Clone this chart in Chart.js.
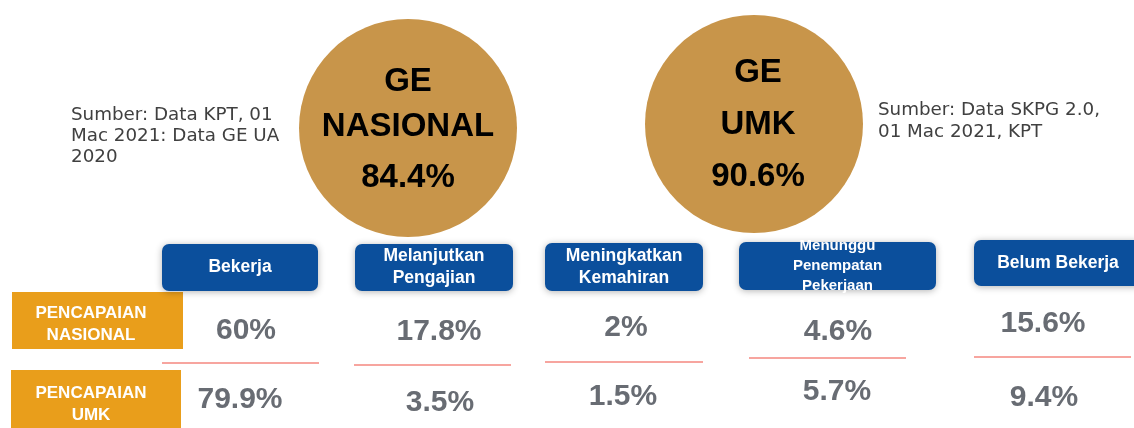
<!DOCTYPE html>
<html>
<head>
<meta charset="utf-8">
<script src="https://cdn.jsdelivr.net/npm/chart.js@4/dist/chart.umd.min.js"></script>
<style>
  html, body { margin: 0; padding: 0; background: #ffffff; }
  #wrap { width: 1134px; height: 428px; position: relative; }
</style>
</head>
<body>
<div id="wrap"><canvas id="geChart"></canvas></div>
<script>
// ---- data ----
const categories = [
  ["Bekerja"],
  ["Melanjutkan", "Pengajian"],
  ["Meningkatkan", "Kemahiran"],
  ["Menunggu", "Penempatan", "Pekerjaan"],
  ["Belum Bekerja"]
];
const nasionalValues = [60, 17.8, 2, 4.6, 15.6];
const umkValues = [79.9, 3.5, 1.5, 5.7, 9.4];
const rowLabels = [["PENCAPAIAN", "NASIONAL"], ["PENCAPAIAN", "UMK"]];
const geLabels = [["GE", "NASIONAL"], ["GE", "UMK"]];
const geValues = [84.4, 90.6];
const sourceNotes = [
  ["Sumber: Data KPT, 01", "Mac 2021: Data GE UA", "2020"],
  ["Sumber: Data SKPG 2.0,", "01 Mac 2021, KPT"]
];

// ---- layout (page units, mapped through the scales) ----
const circleX = [408, 754];
const circleY = [128, 124];
const circleR = [109, 109];
const circleTextDX = [0, 4];
const circleTextDY = [[-46, -1, 50], [-51, 1, 53]];
const headerBox = [
  [162, 318, 244, 291],
  [355, 513, 244, 291],
  [545, 703, 243, 291],
  [739, 936, 242, 290],
  [974, 1142, 240, 286]
];
const headerFont = [17.5, 17.5, 17.5, 15, 17.5];
const headerLine = [22, 22, 22, 20, 22];
const headerDY = [0, 0, 0, 0, 0];
const nasX = [246, 439, 626, 838, 1043];
const nasY = [331, 332, 328, 332, 324];
const umkX = [240, 440, 623, 837, 1044];
const umkY = [400, 403, 397, 392, 398];
const dividers = [
  [162, 319, 363],
  [354, 511, 365],
  [545, 703, 362],
  [749, 906, 358],
  [974, 1131, 357]
];
const rowBox = [[12, 183, 292, 349], [11, 181, 370, 440]];
const rowTextX = [91, 91];
const rowTextY = [313, 393];
const noteX = [71, 878];
const noteY = [115, 110];
const noteLine = [21, 22];

const BLUE = "#0b4f9c";
const ORANGE = "#e99e1b";
const TAN = "#c8954a";
const GREY = "#686c73";
const RED = "#f4877f";

function pct(v) {
  return v + "%";
}

const infographic = {
  id: "infographic",
  beforeDatasetsDraw(chart) {
    const ctx = chart.ctx;
    const sx = chart.scales.x, sy = chart.scales.y;
    ctx.save();

    // orange row labels
    rowBox.forEach((b) => {
      const x0 = sx.getPixelForValue(b[0]), x1 = sx.getPixelForValue(b[1]);
      const y0 = sy.getPixelForValue(b[2]), y1 = sy.getPixelForValue(b[3]);
      ctx.fillStyle = ORANGE;
      ctx.fillRect(x0, y0, x1 - x0, y1 - y0);
    });

    // blue headers
    headerBox.forEach((b) => {
      const x0 = sx.getPixelForValue(b[0]), x1 = sx.getPixelForValue(b[1]);
      const y0 = sy.getPixelForValue(b[2]), y1 = sy.getPixelForValue(b[3]);
      ctx.save();
      ctx.shadowColor = "rgba(0,0,0,0.3)";
      ctx.shadowBlur = 7;
      ctx.shadowOffsetY = 1;
      ctx.fillStyle = BLUE;
      ctx.beginPath();
      ctx.roundRect(x0, y0, x1 - x0, y1 - y0, 7);
      ctx.fill();
      ctx.restore();
    });

    // red dividers
    ctx.strokeStyle = RED;
    ctx.lineWidth = 1.5;
    dividers.forEach((d) => {
      const y = sy.getPixelForValue(d[2]);
      ctx.beginPath();
      ctx.moveTo(sx.getPixelForValue(d[0]), y);
      ctx.lineTo(sx.getPixelForValue(d[1]), y);
      ctx.stroke();
    });

    ctx.restore();
  },
  afterDatasetsDraw(chart) {
    const ctx = chart.ctx;
    const sx = chart.scales.x, sy = chart.scales.y;
    ctx.save();
    ctx.textAlign = "center";
    ctx.textBaseline = "middle";

    // header texts
    ctx.fillStyle = "#ffffff";
    categories.forEach((lines, i) => {
      const b = headerBox[i];
      ctx.font = "bold " + headerFont[i] + "px 'Liberation Sans', Arial, sans-serif";
      const cx = sx.getPixelForValue((b[0] + b[1]) / 2);
      const cy = sy.getPixelForValue((b[2] + b[3]) / 2 + headerDY[i]);
      lines.forEach((t, j) => {
        ctx.fillText(t, cx, cy + (j - (lines.length - 1) / 2) * headerLine[i]);
      });
    });

    // row label texts
    ctx.font = "bold 17px 'Liberation Sans', Arial, sans-serif";
    rowLabels.forEach((lines, i) => {
      const cx = sx.getPixelForValue(rowTextX[i]);
      lines.forEach((t, j) => {
        ctx.fillText(t, cx, sy.getPixelForValue(rowTextY[i] + j * 22));
      });
    });

    // values
    ctx.fillStyle = GREY;
    ctx.font = "bold 30px 'Liberation Sans', Arial, sans-serif";
    [1, 2].forEach((di) => {
      const meta = chart.getDatasetMeta(di);
      const vals = chart.data.datasets[di].data;
      meta.data.forEach((pt, i) => {
        ctx.fillText(pct(vals[i].v), pt.x, pt.y);
      });
    });

    // GE circles text
    ctx.fillStyle = "#000000";
    ctx.font = "bold 33px 'Liberation Sans', Arial, sans-serif";
    const gm = chart.getDatasetMeta(0);
    gm.data.forEach((pt, i) => {
      const lines = geLabels[i].concat([pct(geValues[i])]);
      lines.forEach((t, j) => {
        ctx.fillText(t, pt.x + circleTextDX[i], pt.y + circleTextDY[i][j]);
      });
    });

    // source notes
    ctx.fillStyle = "#404040";
    ctx.textAlign = "left";
    ctx.font = "18.3px 'DejaVu Sans', sans-serif";
    sourceNotes.forEach((lines, i) => {
      lines.forEach((t, j) => {
        ctx.fillText(t, sx.getPixelForValue(noteX[i]), sy.getPixelForValue(noteY[i] + j * noteLine[i]));
      });
    });

    ctx.restore();
  }
};

new Chart(
  document.getElementById("geChart"),
  {
    type: "scatter",
    data: {
      datasets: [
        {
          type: "bubble",
          label: "GE",
          data: geValues.map((v, i) => ({ x: circleX[i], y: circleY[i], r: circleR[i], v: v })),
          backgroundColor: TAN,
          borderWidth: 0,
          clip: false
        },
        {
          label: "Pencapaian Nasional",
          data: nasionalValues.map((v, i) => ({ x: nasX[i], y: nasY[i], v: v })),
          pointRadius: 0,
          clip: false
        },
        {
          label: "Pencapaian UMK",
          data: umkValues.map((v, i) => ({ x: umkX[i], y: umkY[i], v: v })),
          pointRadius: 0,
          clip: false
        }
      ]
    },
    options: {
      responsive: true,
      maintainAspectRatio: false,
      animation: false,
      layout: { padding: 0, autoPadding: false },
      plugins: {
        legend: { display: false },
        tooltip: { enabled: false }
      },
      scales: {
        x: { type: "linear", min: 0, max: 1134, display: false },
        y: { type: "linear", min: 0, max: 428, reverse: true, display: false }
      }
    },
    plugins: [infographic]
  }
);
</script>
</body>
</html>
